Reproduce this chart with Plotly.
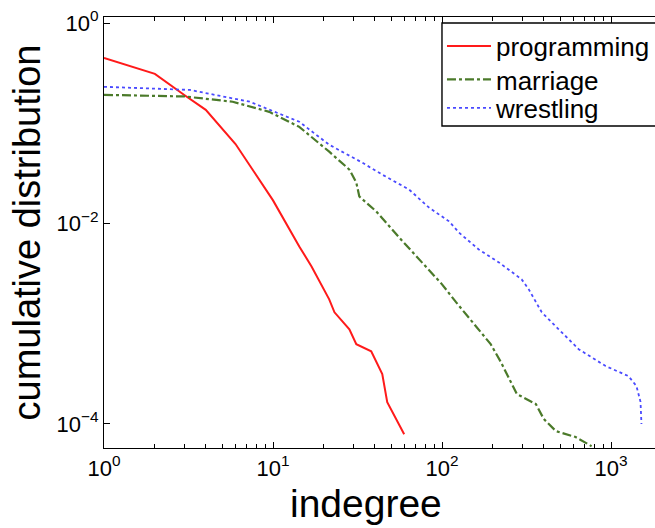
import plotly.graph_objects as go

# programming (red, solid)
prog_x = [1, 2, 3, 4, 6, 10, 14.3, 16.9, 21.5, 23.1, 28.3, 31.1, 38.1, 44.3, 47.4, 59.7]
prog_y = [0.449, 0.311, 0.19, 0.136, 0.062, 0.017, 0.0059, 0.00373, 0.00175, 0.0013,
          8.8e-4, 6.25e-4, 5.3e-4, 3.15e-4, 1.65e-4, 7.9e-5]

# marriage (green, dash-dot)
marr_x = [1, 3, 5.77, 9.5, 14.3, 21.5, 28.3, 31.1, 32.4, 40.8, 55.7, 80.5, 100, 121, 144,
          170, 194, 223, 249, 277, 359, 400, 471, 617, 767]
marr_y = [0.192, 0.185, 0.164, 0.130, 0.092, 0.052, 0.0345, 0.0256, 0.0186, 0.0132, 0.00726,
          0.00373, 0.00247, 0.00164, 0.00116, 8.2e-4, 6.25e-4, 4.14e-4, 2.8e-4, 1.99e-4,
          1.58e-4, 1.12e-4, 8.5e-5, 7.4e-5, 6.0e-5]

# wrestling (blue, dotted)
wres_x = [1, 3.22, 7.27, 14.3, 21.5, 33.7, 44.3, 63.8, 83.8, 110, 126, 165, 217, 296, 326,
          389, 490, 643, 929, 1268, 1413, 1494, 1513]
wres_y = [0.231, 0.215, 0.164, 0.1035, 0.061, 0.0405, 0.0307, 0.0218, 0.0144, 0.0105, 0.0081,
          0.0055, 0.00409, 0.00277, 0.0022, 0.0013, 8.8e-4, 5.57e-4, 3.78e-4, 3.0e-4, 2.39e-4,
          1.66e-4, 1.0e-4]

series_names = ["programming", "marriage", "wrestling"]
x_tickvals = [1, 10, 100, 1000]
x_ticktext = ["10<sup>0</sup>", "10<sup>1</sup>", "10<sup>2</sup>", "10<sup>3</sup>"]
x_minor = [2, 3, 4, 5, 6, 7, 8, 9, 20, 30, 40, 50, 60, 70, 80, 90,
           200, 300, 400, 500, 600, 700, 800, 900]
y_tickvals = [1, 1e-2, 1e-4]
y_ticktext = ["10<sup>0</sup>", "10<sup>−2</sup>", "10<sup>−4</sup>"]

FONT = "Liberation Sans, Arial, sans-serif"

# plot area in pixels: left 104, top 17, width 551, height 431
def py(p):
    return 1 - (p - 17) / 431

fig = go.Figure()
fig.add_trace(go.Scatter(x=prog_x, y=prog_y, mode="lines", name=series_names[0],
                         legend="legend",
                         line=dict(color="#ff1a1a", width=2)))
fig.add_trace(go.Scatter(x=marr_x, y=marr_y, mode="lines", name=series_names[1],
                         legend="legend2",
                         line=dict(color="#4b7a2a", width=2.2, dash="dashdot")))
fig.add_trace(go.Scatter(x=wres_x, y=wres_y, mode="lines", name=series_names[2],
                         legend="legend3",
                         line=dict(color="#4a4aff", width=1.8, dash="dot")))

leg_common = dict(x=0.6134, xanchor="left", yanchor="middle",
                  borderwidth=0, bgcolor="rgba(255,255,255,0)",
                  font=dict(size=26, family=FONT), itemwidth=44)

fig.update_layout(
    width=655, height=528,
    margin=dict(l=104, r=0, t=17, b=80, autoexpand=False),
    paper_bgcolor="white", plot_bgcolor="white",
    font=dict(family=FONT, color="black"),
    showlegend=True,
    legend=dict(y=py(46), **leg_common),
    legend2=dict(y=py(79.5), **leg_common),
    legend3=dict(y=py(108), **leg_common),
    shapes=[dict(type="rect", xref="paper", yref="paper",
                 x0=0.6134, x1=1.02, y0=py(126), y1=py(23),
                 line=dict(color="black", width=1.4), fillcolor="white", layer="above")],
    xaxis=dict(type="log", range=[0, 3.26], showgrid=False, zeroline=False,
               showline=True, linecolor="black", linewidth=1.2, mirror="ticks",
               ticks="inside", ticklen=6, tickcolor="black",
               tickvals=x_tickvals, ticktext=x_ticktext,
               tickfont=dict(size=22, family=FONT),
               minor=dict(tickvals=x_minor, ticks="inside", ticklen=4, tickcolor="black")),
    yaxis=dict(type="log", range=[-4.24, 0.06], showgrid=False, zeroline=False,
               showline=True, linecolor="black", linewidth=1.2,
               ticks="inside", ticklen=6, tickcolor="black",
               tickvals=y_tickvals, ticktext=y_ticktext,
               tickfont=dict(size=22, family=FONT),
               title=dict(text="cumulative distribution", font=dict(size=38, family=FONT),
                          standoff=4)),
    annotations=[dict(text="indegree", xref="paper", yref="paper",
                      x=(366 - 104) / 551, y=-(518 - 448) / 431,
                      xanchor="center", yanchor="bottom", yshift=-9, showarrow=False,
                      font=dict(size=39, family=FONT, color="black"))],
)

fig.write_html("out.html")
